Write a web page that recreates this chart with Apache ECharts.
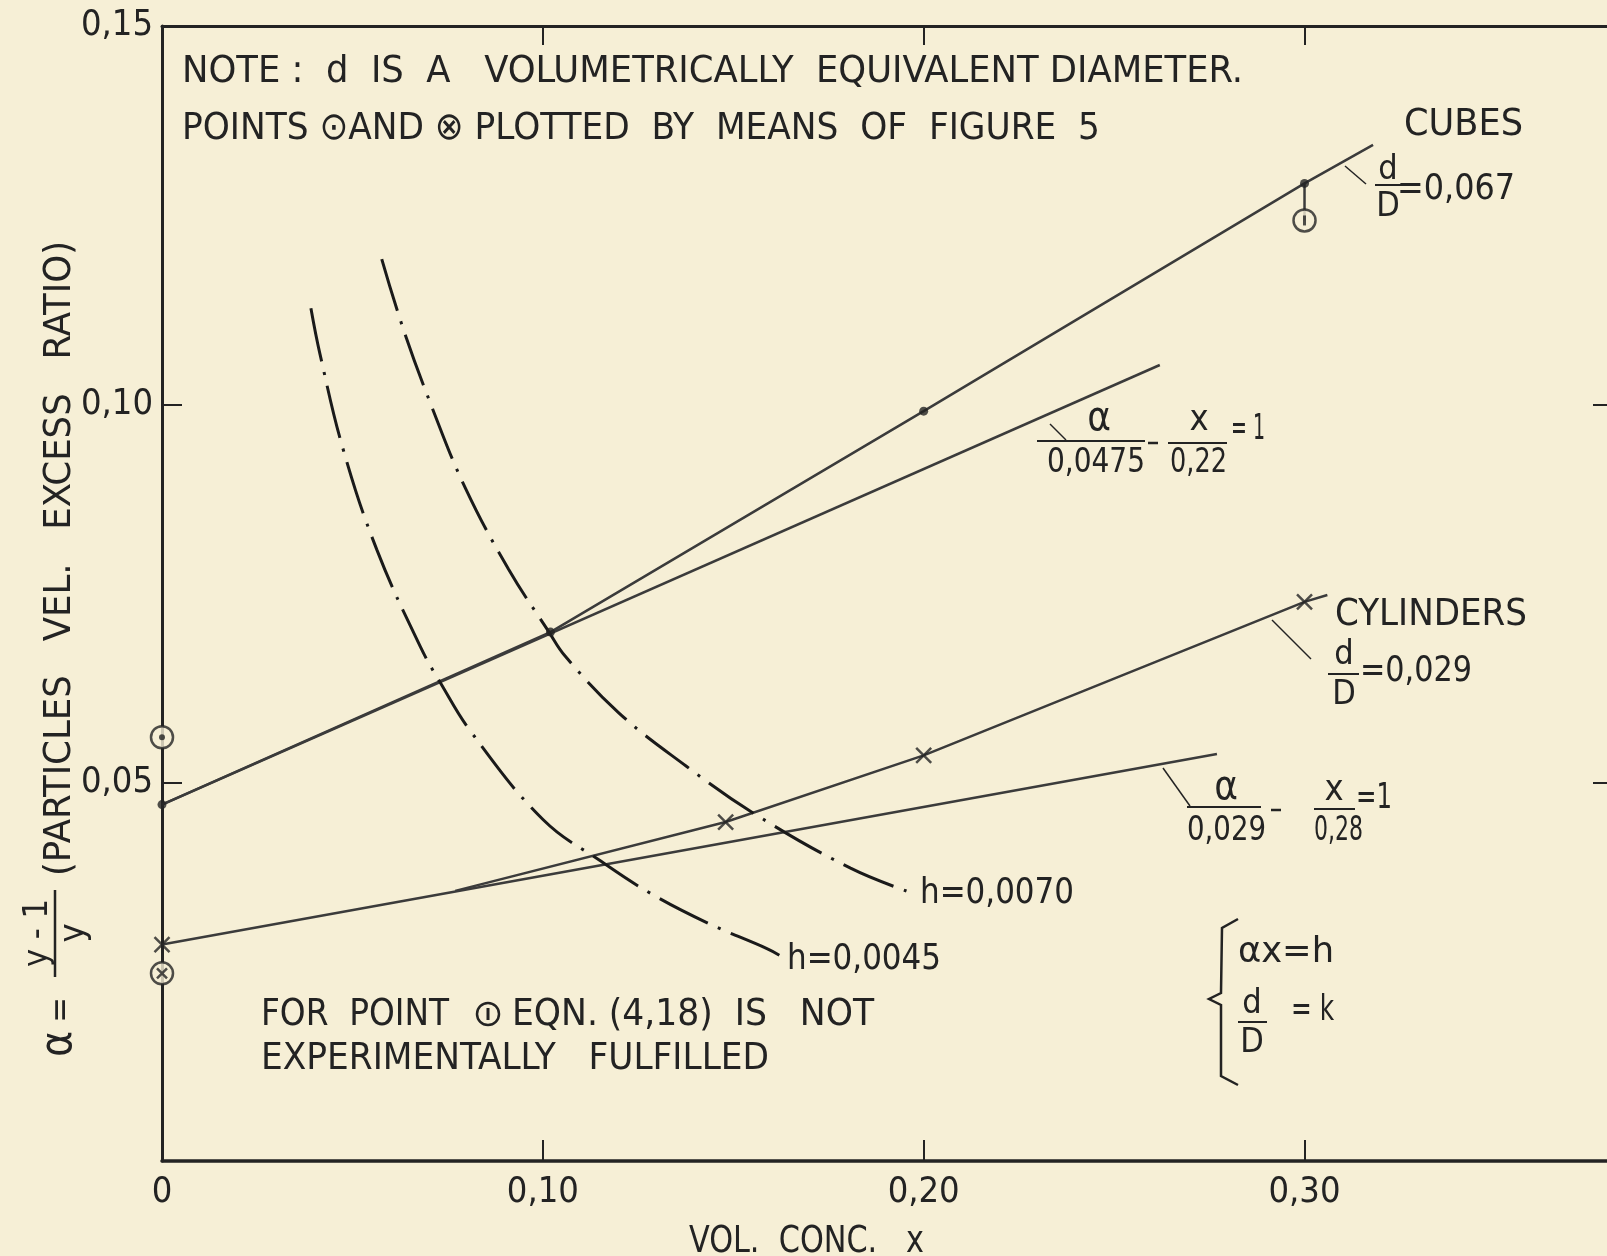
<!DOCTYPE html>
<html>
<head>
<meta charset="utf-8">
<script src="https://cdn.jsdelivr.net/npm/echarts@6/dist/echarts.min.js"></script>
<style>
  html, body { margin: 0; padding: 0; background: #f6efd6; }
  #chart { width: 1607px; height: 1256px; }
</style>
</head>
<body>
<div id="chart"></div>
<script>
// axis ticks
var xTickValues = [0, 0.1, 0.2, 0.3];
var xTickLabels = ['0', '0,10', '0,20', '0,30'];
var yTickValues = [0.05, 0.10, 0.15];
var yTickLabels = ['0,05', '0,10', '0,15'];
var X_MAX = 0.381;

// cubes, d/D = 0.067
var cubesPtsX = [0, 0.102, 0.2, 0.3];
var cubesPtsY = [0.0471, 0.0699, 0.0991, 0.1292];
var cubesEnd = [0.318, 0.1343];
// alpha/0.0475 - x/0.22 = 1
var cubesEqX = [0, 0.262];
var cubesEqY = [0.0471, 0.1052];

// cylinders, d/D = 0.029
var cylPtsX = [0, 0.148, 0.2, 0.3];
var cylPtsY = [0.0286, 0.0448, 0.0536, 0.0739];
var cylBranch = [0.077, 0.0357];
var cylEnd = [0.306, 0.0748];
// alpha/0.029 - x/0.28 = 1
var cylEqX = [0, 0.277];
var cylEqY = [0.0286, 0.0538];

// alpha * x = h
var h45X = [0.0391, 0.0415, 0.0476, 0.0564, 0.0678, 0.0731, 0.0813, 0.1001, 0.1153, 0.1282, 0.1435, 0.1587, 0.1621];
var h45Y = [0.1127, 0.1066, 0.0940, 0.0808, 0.0680, 0.0632, 0.0566, 0.0451, 0.0396, 0.0354, 0.0314, 0.0281, 0.0272];
var h70X = [0.0577, 0.0634, 0.0709, 0.0796, 0.0910, 0.1015, 0.1059, 0.1200, 0.1376, 0.1552, 0.1808, 0.1971];
var h70Y = [0.1192, 0.1099, 0.0996, 0.0890, 0.0782, 0.0700, 0.0667, 0.0592, 0.0522, 0.0460, 0.0387, 0.0354];

// circled points
var dotRing = [0, 0.0560];
var crossRing = [0, 0.0248];
var barRing = [0.3, 0.1243];

var BG = '#f6efd6';
var INK = '#232323';
var LINE = '#3b3b3b';
var FONT = '"Liberation Sans Narrow", "DejaVu Sans Condensed", "DejaVu Sans", sans-serif';
var CROSS = 'path://M0 0L10 10M10 0L0 10';

function zip(xs, ys) {
  return xs.map(function (x, i) { return [x, ys[i]]; });
}

var measureCtx = document.createElement('canvas').getContext('2d');
function measure(s, size) {
  measureCtx.font = size + 'px ' + FONT;
  return measureCtx.measureText(s).width;
}

// text stretched to span x1..x2
function fit(s, x1, x2, y, size) {
  return {
    type: 'text', x: x1, y: y, z: 20,
    scaleX: (x2 - x1) / measure(s, size),
    style: { text: s, font: size + 'px ' + FONT, fill: INK, textAlign: 'left', textVerticalAlign: 'middle' }
  };
}
function ctext(s, x, y, size) {
  return {
    type: 'text', x: x, y: y, z: 20,
    style: { text: s, font: size + 'px ' + FONT, fill: INK, textAlign: 'center', textVerticalAlign: 'middle' }
  };
}
function seg(x1, y1, x2, y2, w) {
  return { type: 'line', z: 20, shape: { x1: x1, y1: y1, x2: x2, y2: y2 }, style: { stroke: INK, lineWidth: w || 2 } };
}

var graphics = [
  fit('NOTE :  d  IS  A   VOLUMETRICALLY  EQUIVALENT DIAMETER.', 182, 1243, 72, 38),
  fit('POINTS \u2299AND \u2297 PLOTTED  BY  MEANS  OF  FIGURE  5', 182, 1100, 129, 38),
  fit('CUBES', 1404, 1523, 125, 38),
  seg(1345, 166, 1366, 184, 1.5),
  ctext('d', 1388, 170, 34), seg(1375, 185, 1401, 185, 2), ctext('D', 1388, 207, 34),
  fit('=0,067', 1397, 1515, 190, 36),

  seg(1050, 424, 1066, 440, 1.5),
  ctext('\u03b1', 1099, 420, 40), seg(1037, 441, 1145, 441, 2), fit('0,0475', 1047, 1145, 463, 34),
  seg(1148, 443, 1158, 443, 2.5),
  ctext('x', 1199, 421, 36), seg(1168, 443, 1227, 443, 2), fit('0,22', 1170, 1227, 463, 34),
  fit('= 1', 1231, 1265, 430, 36),

  fit('CYLINDERS', 1335, 1527, 615, 38),
  seg(1272, 620, 1311, 659, 1.5),
  ctext('d', 1344, 655, 34), seg(1328, 674, 1359, 674, 2), ctext('D', 1344, 695, 34),
  fit('=0,029', 1360, 1472, 672, 36),

  seg(1163, 768, 1190, 806, 1.5),
  ctext('\u03b1', 1226, 789, 40), seg(1187, 807, 1261, 807, 2), fit('0,029', 1187, 1266, 831, 34),
  seg(1271, 810, 1281, 810, 2.5),
  ctext('x', 1334, 791, 36), seg(1314, 809, 1355, 809, 2), fit('0,28', 1314, 1363, 831, 34),
  fit('=1', 1356, 1392, 799, 36),

  fit('h=0,0070', 920, 1074, 894, 36),
  fit('h=0,0045', 787, 941, 960, 36),

  {
    type: 'polyline', z: 20,
    shape: { points: [[1238, 919], [1222, 928], [1221, 993], [1209, 999], [1221, 1005], [1221, 1076], [1238, 1085]] },
    style: { stroke: INK, lineWidth: 2.5, fill: null }
  },
  fit('\u03b1x=h', 1238, 1334, 953, 36),
  ctext('d', 1252, 1004, 34), seg(1238, 1022, 1267, 1022, 2), ctext('D', 1252, 1043, 34),
  fit('= k', 1291, 1334, 1011, 36),

  fit('FOR  POINT', 261, 449, 1015, 38),
  { type: 'circle', z: 20, shape: { cx: 488, cy: 1014, r: 11 }, style: { stroke: INK, lineWidth: 2.5, fill: null } },
  seg(488, 1008, 488, 1020, 3),
  fit('EQN. (4,18)  IS   NOT', 512, 874, 1015, 38),
  fit('EXPERIMENTALLY   FULFILLED', 261, 769, 1059, 38),

  fit('VOL.  CONC.   x', 689, 924, 1242, 38),

  {
    type: 'group', x: 60, y: 1060, rotation: Math.PI / 2,
    children: [
      ctext('\u03b1', 16, 0, 44),
      ctext('=', 50, 2, 34),
      ctext('y - 1', 127, -22, 34),
      seg(83, -5, 170, -5, 2.5),
      ctext('y', 127, 15, 36),
      fit('(PARTICLES   VEL.   EXCESS   RATIO)', 184, 819, 0, 38)
    ]
  }
];

function tickFmt(values, labels) {
  return function (v) {
    for (var i = 0; i < values.length; i++) {
      if (Math.abs(values[i] - v) < 1e-9) return labels[i];
    }
    return '';
  };
}

var axisLineStyle = { color: INK, width: 3 };
var tickStyle = { color: INK, width: 2 };
var labelStyle = { fontSize: 36, fontFamily: FONT, color: INK };

var chart = echarts.init(document.getElementById('chart'));
chart.setOption({
  backgroundColor: BG,
  animation: false,
  grid: { left: 162, top: 26, width: 1451, height: 1135, containLabel: false, outerBoundsMode: 'none' },
  xAxis: [
    {
      type: 'value', position: 'bottom', min: 0, max: X_MAX,
      axisLine: { show: true, onZero: false, lineStyle: { color: INK, width: 3.5 } },
      axisTick: { show: true, inside: true, length: 21, customValues: xTickValues.slice(1), lineStyle: tickStyle },
      axisLabel: Object.assign({ customValues: xTickValues, formatter: tickFmt(xTickValues, xTickLabels), margin: 14 }, labelStyle),
      splitLine: { show: false }
    },
    {
      type: 'value', position: 'top', min: 0, max: X_MAX,
      axisLine: { show: true, onZero: false, lineStyle: axisLineStyle },
      axisTick: { show: true, inside: true, length: 19, customValues: xTickValues.slice(1), lineStyle: tickStyle },
      axisLabel: { show: false },
      splitLine: { show: false }
    }
  ],
  yAxis: [
    {
      type: 'value', position: 'left', min: 0, max: 0.15,
      axisLine: { show: true, onZero: false, lineStyle: axisLineStyle },
      axisTick: { show: true, inside: true, length: 20, customValues: yTickValues.slice(0, 2), lineStyle: tickStyle },
      axisLabel: Object.assign({ customValues: yTickValues, formatter: tickFmt(yTickValues, yTickLabels), margin: 9 }, labelStyle),
      splitLine: { show: false }
    },
    {
      type: 'value', position: 'right', min: 0, max: 0.15,
      axisLine: { show: true, onZero: false, lineStyle: axisLineStyle },
      axisTick: { show: true, inside: true, length: 20, customValues: yTickValues.slice(0, 2), lineStyle: tickStyle },
      axisLabel: { show: false },
      splitLine: { show: false }
    }
  ],
  series: [
    {
      name: 'cubes', type: 'line', symbol: 'none', z: 3,
      data: zip(cubesPtsX, cubesPtsY).concat([cubesEnd]),
      lineStyle: { color: LINE, width: 2.5 }
    },
    {
      name: 'cubesEq', type: 'line', symbol: 'none', z: 3,
      data: zip(cubesEqX, cubesEqY),
      lineStyle: { color: LINE, width: 2.5 }
    },
    {
      name: 'cylinders', type: 'line', symbol: 'none', z: 3,
      data: [cylBranch].concat(zip(cylPtsX, cylPtsY).slice(1), [cylEnd]),
      lineStyle: { color: LINE, width: 2.5 }
    },
    {
      name: 'cylEq', type: 'line', symbol: 'none', z: 3,
      data: zip(cylEqX, cylEqY),
      lineStyle: { color: LINE, width: 2.5 }
    },
    {
      name: 'h=0,0045', type: 'line', symbol: 'none', smooth: 0.4, z: 4,
      data: zip(h45X, h45Y),
      lineStyle: { color: '#1a1a1a', width: 3, type: [54, 11, 3, 11] }
    },
    {
      name: 'h=0,0070', type: 'line', symbol: 'none', smooth: 0.4, z: 4,
      data: zip(h70X, h70Y),
      lineStyle: { color: '#1a1a1a', width: 3, type: [54, 11, 3, 11] }
    },
    {
      name: 'stem', type: 'line', symbol: 'none', z: 3,
      data: [[cubesPtsX[3], cubesPtsY[3]], barRing],
      lineStyle: { color: LINE, width: 2.5 }
    },
    {
      name: 'cubesPts', type: 'scatter', symbol: 'circle', symbolSize: 9, z: 5, clip: false,
      data: zip(cubesPtsX, cubesPtsY),
      itemStyle: { color: INK }
    },
    {
      name: 'cylPts', type: 'scatter', symbol: CROSS, symbolSize: 15, z: 5, clip: false,
      data: zip(cylPtsX, cylPtsY),
      itemStyle: { color: 'transparent', borderColor: INK, borderWidth: 2.5 }
    },
    {
      name: 'rings', type: 'scatter', symbol: 'circle', symbolSize: 22, z: 6, clip: false,
      data: [dotRing, crossRing, barRing],
      itemStyle: { color: BG, borderColor: INK, borderWidth: 2.5 }
    },
    {
      name: 'ringDot', type: 'scatter', symbol: 'circle', symbolSize: 6, z: 7, clip: false,
      data: [dotRing], itemStyle: { color: INK }
    },
    {
      name: 'ringCross', type: 'scatter', symbol: CROSS, symbolSize: 10, z: 7, clip: false,
      data: [crossRing], itemStyle: { color: 'transparent', borderColor: INK, borderWidth: 2.5 }
    },
    {
      name: 'ringBar', type: 'scatter', symbol: 'rect', symbolSize: [3, 10], z: 7, clip: false,
      data: [barRing], itemStyle: { color: INK }
    }
  ],
  graphic: graphics
});
</script>
</body>
</html>
